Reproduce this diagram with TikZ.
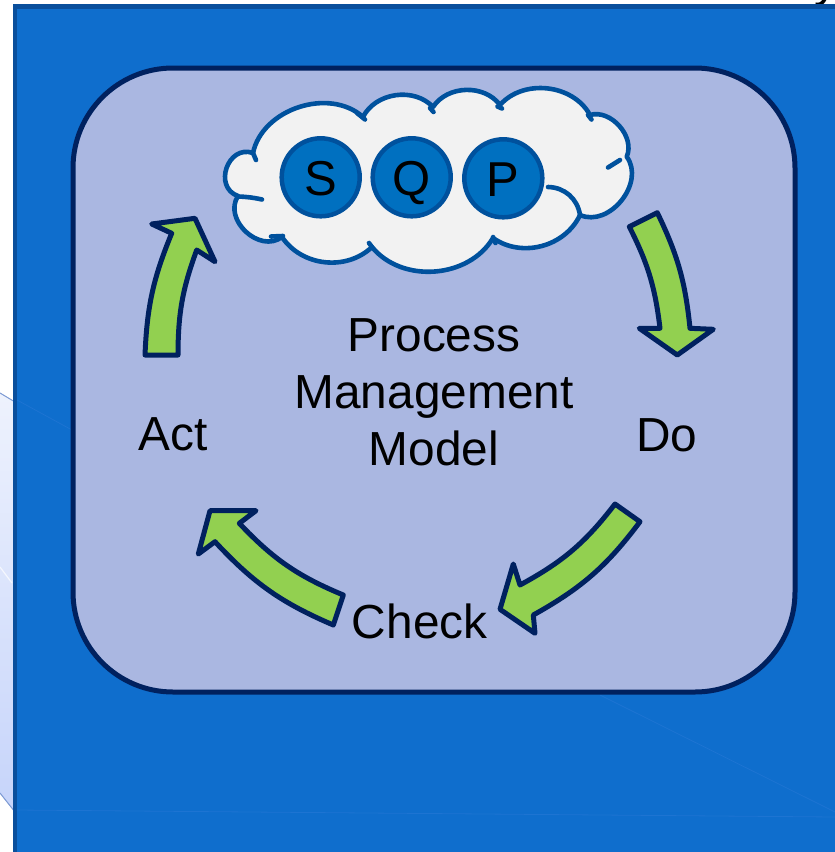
\documentclass[tikz,border=0pt]{standalone}
\usepackage{fontspec}
\setmainfont{Liberation Sans}
\definecolor{bgblue}{HTML}{0F6ECD}
\definecolor{bgborder}{HTML}{0A4F9C}
\definecolor{panel}{HTML}{AAB7E1}
\definecolor{navy}{HTML}{00215F}
\definecolor{cloudfill}{HTML}{F2F2F2}
\definecolor{cloudline}{HTML}{00519D}
\definecolor{circfill}{HTML}{0070C0}
\definecolor{arrowgreen}{HTML}{92D050}
\definecolor{lightshape}{HTML}{C6D4FA}
\definecolor{lightedge}{HTML}{7E9CD6}
\definecolor{faintline}{HTML}{1D74D2}
\tikzset{
  panelbox/.style={draw=navy, fill=panel, line width=5pt, rounded corners=100pt, inner sep=0pt, outer sep=0pt, minimum width=722pt, minimum height=624pt},
  puffline/.style={draw=cloudline, line width=4.6pt, line join=round},
  letterdisc/.style={circle, draw=cloudline, fill=circfill, line width=4.5pt, minimum size=78pt, inner sep=0pt, font=\fontsize{49}{55}\selectfont, text height=37pt, text depth=0pt},
  greenarrow/.style={draw=navy, fill=arrowgreen, line width=5pt, line join=round},
  txt/.style={anchor=base, inner sep=0pt, font=\fontsize{47.8}{55}\selectfont},
}
\begin{document}
\begin{tikzpicture}[x=1pt,y=1pt]
\useasboundingbox (0,0) rectangle (835,-852);
\fill[white] (0,0) rectangle (835,-852);
% light shape at left
\fill[top color=white!70!lightshape, bottom color=lightshape] (0,-393) -- (15,-402) -- (15,-812) -- (0,-793) -- cycle;
\draw[lightedge, line width=1pt] (0,-393) -- (15,-402);
\draw[lightedge, line width=1pt] (0,-793) -- (15,-812);
\draw[white, opacity=0.7, line width=1.2pt] (0,-567) -- (12,-583);
% top-right partial letter
\node[txt] (ytail) at (826,3.7) {y};
% blue background
\draw[bgborder, fill=bgblue, line width=4.5pt] (15,-6.5) rectangle (850,-870);
\draw[faintline, line width=0.8pt] (17,-400) -- (72,-430);
\draw[faintline, line width=0.8pt] (17,-810) -- (835,-817);
\draw[faintline, line width=0.8pt] (600,-695) -- (835,-812);
% panel
\node[panelbox] (panel) at (434,-380) {};
% cloud
\filldraw[puffline, fill=cloudfill]
 (253,-153) to[bend left=60] (363,-117)
 to[bend left=55] (433,-107)
 to[bend left=55] (500,-105)
 to[bend left=55] (590,-115)
 to[bend left=65] (626.7,-156.7)
 to[bend left=75,looseness=1.1] (580,-215)
 to[bend left=50] (493,-238)
 to[bend left=55] (372,-247)
 to[bend left=50] (282,-237)
 to[bend left=80,looseness=1.2] (238,-196)
 to[bend left=90,looseness=1.5] cycle;
\draw[puffline, line cap=round] (253,-153) -- (256,-160);
\draw[puffline, line cap=round] (357,-113) -- (365,-119.5);
\draw[puffline, line cap=round] (430,-108) -- (433.5,-112);
\draw[puffline, line cap=round] (497.5,-106.5) -- (502,-108.5);
\draw[puffline, line cap=round] (588,-115) -- (591.5,-119.5);
\draw[puffline, line cap=round] (608,-167.5) -- (620,-160);
\draw[puffline, line cap=round] (548,-187) to[bend left=40] (580,-215);
\draw[puffline, line cap=round] (493,-237) -- (495.5,-243);
\draw[puffline, line cap=round] (372,-247) -- (369,-243);
\draw[puffline, line cap=round] (283,-236) -- (271,-236.5);
\draw[puffline, line cap=round] (238,-196.5) to[bend left=5] (262,-199.5);
% S Q P
\node[letterdisc] (S) at (320.7,-177.3) {S};
\node[letterdisc] (Q) at (411.7,-177.3) {Q};
\node[letterdisc] (P) at (503.3,-178.3) {P};
% arrows
\draw[greenarrow] (145,-355) -- (178,-355) to[bend left=10] (196.7,-250) -- (215,-261.7) -- (195,-218.3) -- (151.7,-224) -- (171.7,-233.3) to[bend right=10] cycle;
\draw[greenarrow] (629.3,-226.7) to[bend left=10] (660,-328.3) -- (639.3,-328.3) -- (677.3,-355) -- (713.3,-329.3) -- (690,-328.3) to[bend right=10] (657.3,-212.7) -- cycle;
\draw[greenarrow] (615,-504) -- (640,-521.7) to[bend left=12] (533.3,-615) -- (535,-633.3) -- (500,-609.3) -- (513.3,-564) -- (520,-585) to[bend right=12] cycle;
\draw[greenarrow] (333.3,-625) -- (343.3,-595) to[bend left=12] (239.3,-523.3) -- (256,-510.7) -- (210,-510.7) -- (198.3,-554) -- (215,-541.7) to[bend right=12] cycle;
% texts
\node[txt] (t1) at (434,-351.7) {Process};
\node[txt] (t2) at (434,-408.3) {Management};
\node[txt] (t3) at (434,-465) {Model};
\node[txt] (act) at (173.3,-450) {Act};
\node[txt] (do) at (667,-451.7) {Do};
\node[txt] (check) at (419.7,-638.3) {Check};
\end{tikzpicture}
\end{document}
